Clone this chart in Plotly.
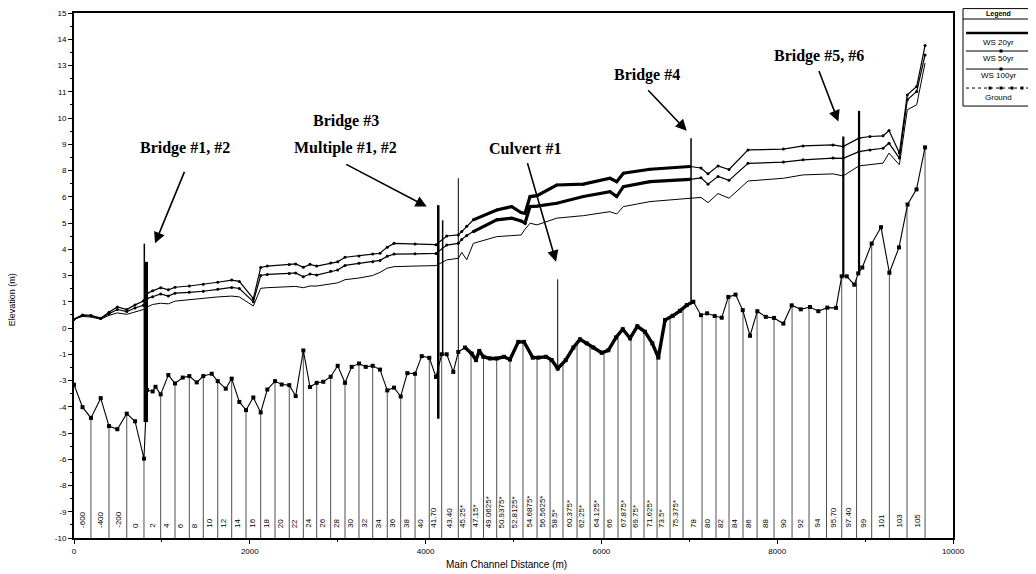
import numpy as np
import plotly.graph_objects as go

# ---------------- data ----------------
ground_dist = [0, 97, 193, 304, 398, 493, 600, 694, 796, 830,
               895, 927, 986, 1073, 1149, 1237, 1312, 1396, 1471, 1567,
               1635, 1726, 1794, 1881, 1957, 2040, 2124, 2199, 2287, 2363,
               2449, 2522, 2609, 2685, 2761, 2836, 2920, 3000, 3083, 3159,
               3242, 3319, 3398, 3481, 3564, 3641, 3717, 3792, 3880, 3956,
               4042, 4118, 4183, 4240, 4315, 4372, 4448, 4525, 4573, 4611,
               4657, 4733, 4809, 4892, 4960, 5055, 5120, 5219, 5282, 5370,
               5435, 5503, 5594, 5681, 5757, 5833, 5908, 6004, 6079, 6166,
               6243, 6326, 6409, 6496, 6579, 6648, 6724, 6811, 6894, 6971,
               7046, 7133, 7202, 7289, 7369, 7444, 7526, 7608, 7691, 7774,
               7870, 7964, 8070, 8165, 8268, 8373, 8468, 8570, 8669, 8734,
               8791, 8877, 8922, 8968, 9075, 9181, 9276, 9386, 9483, 9585,
               9682]
ground_elev = [-2.70, -3.77, -4.28, -3.34, -4.67, -4.82, -4.08, -4.44, -6.22, -2.95,
               -3.02, -2.80, -3.16, -2.24, -2.64, -2.36, -2.29, -2.59, -2.29, -2.18,
               -2.53, -2.89, -2.41, -3.52, -3.91, -3.31, -4.02, -2.93, -2.53, -2.69,
               -2.72, -3.24, -1.07, -2.81, -2.61, -2.56, -2.32, -1.80, -2.61, -1.85,
               -1.69, -1.85, -1.80, -1.98, -2.97, -2.84, -3.26, -2.15, -2.18, -1.34,
               -1.42, -2.33, -1.25, -1.25, -2.09, -1.14, -0.93, -1.22, -1.53, -1.09,
               -1.37, -1.45, -1.45, -1.37, -1.50, -0.66, -0.66, -1.41, -1.41, -1.37,
               -1.53, -1.93, -1.53, -0.93, -0.54, -0.73, -0.93, -1.18, -1.06, -0.45,
               -0.06, -0.49, 0.08, -0.18, -0.73, -1.41, 0.38, 0.58, 0.82, 1.09,
               1.25, 0.61, 0.70, 0.57, 0.49, 1.48, 1.59, 0.85, -0.37, 0.80,
               0.53, 0.48, 0.21, 1.08, 0.89, 1.00, 0.80, 0.97, 0.96, 2.46,
               2.46, 2.06, 2.60, 2.88, 4.02, 4.80, 2.63, 3.84, 5.88, 6.60,
               8.60]

ws_dist = [0, 97, 193, 304, 398, 493, 600, 694, 790, 830,
           895, 986, 1073, 1149, 1312, 1471, 1635, 1794, 1881, 2040,
           2124, 2199, 2449, 2522, 2609, 2685, 2761, 2920, 3000, 3083,
           3242, 3398, 3481, 3564, 3641, 3880, 4118, 4240, 4372, 4411,
           4468, 4543, 4809, 4980, 5086, 5131, 5188, 5268, 5492, 5795,
           6098, 6174, 6250, 6553, 7008, 7133, 7213, 7327, 7452, 7668,
           8070, 8294, 8635, 8749, 8931, 9056, 9204, 9272, 9390, 9480,
           9587, 9682]
ws20 = [0.42, 0.55, 0.52, 0.42, 0.60, 0.72, 0.65, 0.78, 0.88, 1.00,
        1.12, 1.18, 1.15, 1.28, 1.35, 1.42, 1.48, 1.52, 1.48, 1.05,
        1.89, 1.92, 1.98, 1.98, 1.92, 2.00, 2.00, 2.08, 2.15, 2.30,
        2.38, 2.50, 2.65, 2.85, 2.92, 2.95, 2.97, 3.24, 3.32, 3.60,
        3.25, 4.03, 4.35, 4.40, 4.43, 4.70, 4.99, 4.91, 5.23, 5.35,
        5.54, 5.43, 5.78, 6.02, 6.18, 6.22, 5.97, 6.40, 6.18, 7.00,
        7.13, 7.29, 7.34, 7.24, 7.72, 7.77, 7.85, 8.33, 7.77, 10.39,
        10.63, 12.62]
ws50 = [0.42, 0.60, 0.58, 0.45, 0.68, 0.88, 0.78, 0.95, 1.08, 1.40,
        1.49, 1.62, 1.52, 1.66, 1.70, 1.75, 1.84, 1.93, 1.88, 1.25,
        2.50, 2.55, 2.60, 2.62, 2.44, 2.57, 2.52, 2.70, 2.76, 2.98,
        3.08, 3.15, 3.22, 3.42, 3.52, 3.53, 3.55, 3.95, 4.03, 4.22,
        4.40, 4.59, 5.15, 5.23, 5.10, 4.99, 5.78, 5.80, 5.94, 6.26,
        6.49, 6.26, 6.73, 6.97, 7.08, 7.15, 6.85, 7.22, 7.03, 7.84,
        7.90, 8.01, 8.09, 8.08, 8.40, 8.48, 8.56, 8.80, 8.09, 10.87,
        11.26, 13.00]
ws100 = [0.42, 0.62, 0.60, 0.47, 0.75, 1.00, 0.88, 1.10, 1.28, 1.65,
         1.77, 1.92, 1.82, 1.94, 2.00, 2.08, 2.18, 2.28, 2.22, 1.40,
         2.88, 2.95, 3.02, 3.05, 2.89, 3.03, 2.95, 3.10, 3.15, 3.37,
         3.43, 3.52, 3.56, 3.85, 4.03, 4.00, 3.97, 4.38, 4.43, 4.59,
         4.85, 5.15, 5.62, 5.78, 5.50, 5.46, 6.26, 6.30, 6.81, 6.85,
         7.13, 6.97, 7.37, 7.56, 7.69, 7.62, 7.34, 7.72, 7.55, 8.48,
         8.52, 8.67, 8.72, 8.64, 9.04, 9.12, 9.15, 9.40, 8.33, 11.10,
         11.50, 13.45]

station_labels = ["-600", "-400", "-200", "0", "2", "4", "6", "8", "10", "12",
                  "14", "16", "18", "20", "22", "24", "26", "28", "30", "32",
                  "34", "36", "38", "40", "41.70", "43.40", "45.25*", "47.15*",
                  "49.0625*", "50.9375*", "52.8125*", "54.6875*", "56.5625*",
                  "58.5*", "60.375*", "62.25*", "64.125*", "66", "67.875*",
                  "69.75*", "71.625*", "73.5*", "75.375*", "78", "80", "82",
                  "84", "86", "88", "90", "92", "94", "95.70", "97.40", "99",
                  "101", "103", "105"]
station_dist = [193, 398, 600, 796, 986, 1149, 1312, 1471, 1635, 1794,
                1957, 2124, 2287, 2449, 2609, 2761, 2920, 3083, 3242, 3398,
                3564, 3717, 3880, 4042, 4183, 4372, 4517, 4659,
                4809, 4960, 5108, 5268, 5416,
                5563, 5723, 5871, 6030, 6189, 6337,
                6485, 6633, 6781, 6929, 7145, 7304, 7452,
                7611, 7771, 7964, 8169, 8362, 8561, 8734, 8903, 9075,
                9276, 9477, 9682]

# structures (bridges / culvert / multiple opening)
struct_dist = [800, 822, 4144, 4194, 4372, 5503, 7020, 8752, 8931]
struct_bottom = [-4.48, -4.48, -4.32, -1.25, -1.14, -1.93, 1.20, 2.46, 2.60]
struct_top = [4.02, 3.15, 5.85, 5.13, 7.13, 2.32, 9.04, 9.12, 10.34]
struct_width = [1.5, 3.5, 2.5, 1.5, 1.0, 1.0, 1.5, 2.2, 2.2]

# callouts: text, text position (distance, elevation)
callout_text = ["Bridge #1, #2", "Bridge #3", "Multiple #1, #2", "Culvert #1",
                "Bridge #4", "Bridge #5, #6"]
callout_dist = [1263, 3094, 3083, 5134, 6516, 8476]
callout_elev = [8.58, 9.88, 8.56, 8.56, 12.06, 12.96]
# arrows: head position (distance, elevation) and tail offset in px
arrow_dist = [922, 4013, 5484, 6971, 8696]
arrow_elev = [4.03, 5.78, 3.16, 9.39, 9.83]
arrow_ax = [30, -82, -29, -40, -20]
arrow_ay = [-73, -43, -100, -42, -52]

x_tick_vals = [0, 2000, 4000, 6000, 8000, 10000]
x_tick_text = ["0", "2000", "4000", "6000", "8000", "10000"]
y_tick_vals = [-10 + 1.25 * i for i in range(21)]
y_tick_text = ["-10", "-9", "-8", "-6", "-5", "-4", "-3", "-1", "0", "1", "3",
               "4", "5", "6", "8", "9", "10", "11", "13", "14", "15"]

# ---------------- layout geometry ----------------
# the page body adds an 8 px margin; geometry below is given in page pixels
OFF = 8
W, H = 1028, 566
PL, PR, PT, PB = 74, 953, 13, 537.7          # plot area in page pixels
ML, MR = PL - OFF, W - (PR - OFF)
MT, MB = PT - OFF, H - (PB - OFF)
PW, PH = W - ML - MR, H - MT - MB


def xp(px):
    return (px - OFF - ML) / PW


def yp(py):
    return (H - MB - (py - OFF)) / PH


SANS = "Liberation Sans"
SERIF = "Liberation Serif"

fig = go.Figure()

# station lines from channel bottom down to the axis
g_at_station = np.interp(station_dist, ground_dist, ground_elev)
sx, sy = [], []
for d, g in zip(station_dist, g_at_station):
    sx += [d, d, None]
    sy += [-10, g, None]
fig.add_trace(go.Scatter(x=sx, y=sy, mode="lines",
                         line=dict(color="#222", width=0.8), hoverinfo="skip"))

# water surfaces
fig.add_trace(go.Scatter(x=ws_dist, y=ws20, mode="lines", name="WS 20yr",
                         line=dict(color="black", width=1.0)))
fig.add_trace(go.Scatter(x=ws_dist, y=ws50, mode="lines+markers", name="WS 50yr",
                         line=dict(color="black", width=1.2),
                         marker=dict(size=3, color="black")))
fig.add_trace(go.Scatter(x=ws_dist, y=ws100, mode="lines+markers", name="WS 100yr",
                         line=dict(color="black", width=1.2),
                         marker=dict(size=3, color="black")))

# ground
fig.add_trace(go.Scatter(x=ground_dist, y=ground_elev, mode="lines+markers",
                         name="Ground", line=dict(color="black", width=1.1),
                         marker=dict(size=4, color="black", symbol="square")))

# denser (interpolated) reach drawn heavier
wsd = np.array(ws_dist)
gd = np.array(ground_dist)
mw = (wsd >= 4540) & (wsd <= 7010)
mg = (gd >= 4440) & (gd <= 7050)
for arr in (ws50, ws100):
    fig.add_trace(go.Scatter(x=wsd[mw], y=np.array(arr)[mw], mode="lines",
                             line=dict(color="black", width=3.2), hoverinfo="skip"))
fig.add_trace(go.Scatter(x=gd[mg], y=np.array(ground_elev)[mg], mode="lines",
                         line=dict(color="black", width=3.4), hoverinfo="skip"))

# structures
for d, b, t, w in zip(struct_dist, struct_bottom, struct_top, struct_width):
    fig.add_trace(go.Scatter(x=[d, d], y=[b, t], mode="lines",
                             line=dict(color="black", width=w), hoverinfo="skip"))

annotations = []
# station labels
for d, lab in zip(station_dist, station_labels):
    annotations.append(dict(x=d, y=-9.62, xref="x", yref="y", text=lab,
                            showarrow=False, textangle=-90, xanchor="center",
                            yanchor="bottom", xshift=-8.5,
                            font=dict(family=SANS, size=8, color="black")))
# callouts
for t, d, e in zip(callout_text, callout_dist, callout_elev):
    annotations.append(dict(x=d, y=e, xref="x", yref="y", text="<b>%s</b>" % t,
                            showarrow=False, xanchor="center", yanchor="middle",
                            font=dict(family=SERIF, size=16, color="black")))
for d, e, ax, ay in zip(arrow_dist, arrow_elev, arrow_ax, arrow_ay):
    annotations.append(dict(x=d, y=e, xref="x", yref="y", text="", ax=ax, ay=ay,
                            showarrow=True, arrowhead=2, arrowsize=1.4,
                            arrowwidth=1.6, arrowcolor="black"))
# axis titles
annotations.append(dict(x=xp(12), y=yp(300), xref="paper", yref="paper",
                        xanchor="center", yanchor="middle",
                        text="Elevation (m)", showarrow=False, textangle=-90,
                        font=dict(family=SANS, size=9, color="black")))
annotations.append(dict(x=xp(506), y=yp(564), xref="paper", yref="paper",
                        xanchor="center", yanchor="middle",
                        text="Main Channel Distance (m)", showarrow=False,
                        font=dict(family=SANS, size=10, color="black")))

# legend (HEC-RAS style, sample above text)
shapes = []
LX0, LX1 = 963, 1034
shapes.append(dict(type="rect", xref="paper", yref="paper", x0=xp(LX0), x1=xp(LX1),
                   y0=yp(106), y1=yp(8.6), line=dict(color="black", width=1)))
shapes.append(dict(type="line", xref="paper", yref="paper", x0=xp(LX0), x1=xp(LX1),
                   y0=yp(19), y1=yp(19), line=dict(color="black", width=1)))
annotations.append(dict(x=xp(998), y=yp(14), xref="paper", yref="paper",
                        xanchor="center", yanchor="middle",
                        text="<b>Legend</b>", showarrow=False,
                        font=dict(family=SANS, size=7, color="black")))
leg_names = ["WS 20yr", "WS 50yr", "WS 100yr", "Ground"]
leg_line_y = [33, 51, 69, 88]
leg_text_y = [42, 58, 75, 97]
leg_lw = [2.5, 1, 1, 1]
leg_dash = ["solid", "solid", "solid", "dot"]
leg_marks = [[], [1001], [1001], [990, 1001, 1012, 1022]]
for n, ly, ty, lw, ds, mk in zip(leg_names, leg_line_y, leg_text_y, leg_lw, leg_dash, leg_marks):
    shapes.append(dict(type="line", xref="paper", yref="paper", x0=xp(966), x1=xp(1031),
                       y0=yp(ly), y1=yp(ly), line=dict(color="black", width=lw, dash=ds)))
    for m in mk:
        shapes.append(dict(type="rect", xref="paper", yref="paper",
                           x0=xp(m - 1.5), x1=xp(m + 1.5), y0=yp(ly + 1.5), y1=yp(ly - 1.5),
                           fillcolor="black", line=dict(width=0)))
    annotations.append(dict(x=xp(998), y=yp(ty), xref="paper", yref="paper", text=n,
                            xanchor="center", yanchor="middle",
                            showarrow=False, font=dict(family=SANS, size=8, color="black")))

fig.update_layout(
    width=W, height=H,
    margin=dict(l=ML, r=MR, t=MT, b=MB, autoexpand=False),
    paper_bgcolor="white", plot_bgcolor="white",
    showlegend=False,
    annotations=annotations, shapes=shapes,
    xaxis=dict(range=[0, 10000], tickvals=x_tick_vals, ticktext=x_tick_text,
               ticks="outside", ticklen=4,
               tickwidth=1, tickcolor="black", showline=True, linewidth=2,
               linecolor="black", mirror=True, showgrid=False, zeroline=False,
               tickfont=dict(family=SANS, size=8, color="black"),
               minor=dict(dtick=1000, tick0=0, ticks="outside", ticklen=2,
                          tickcolor="black")),
    yaxis=dict(range=[-10, 15], tickvals=y_tick_vals, ticktext=y_tick_text,
               ticks="outside", ticklen=4, tickwidth=1, tickcolor="black",
               showline=True, linewidth=2, linecolor="black", mirror=True,
               showgrid=False, zeroline=False,
               tickfont=dict(family=SANS, size=8, color="black"),
               minor=dict(dtick=0.625, tick0=-10, ticks="outside", ticklen=2,
                          tickcolor="black")),
)

fig.write_html("out.html")
